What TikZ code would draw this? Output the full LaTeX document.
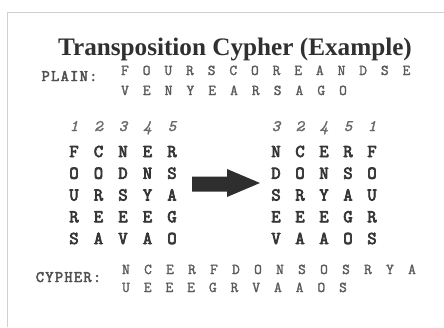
\documentclass[tikz,border=0pt]{standalone}
\usepackage{fontspec}
\setmainfont{Liberation Serif}
\newfontfamily\typb[FakeBold=4]{Latin Modern Mono}
\newfontfamily\typl[FakeBold=3,LetterSpace=8]{Latin Modern Mono}
\newfontfamily\typr[FakeBold=1.8]{Latin Modern Mono}
\newfontfamily\typi[FakeBold=1.5]{Latin Modern Mono}
\definecolor{titlegray}{HTML}{303030}
\definecolor{labgray}{HTML}{505050}
\definecolor{txtgray}{HTML}{5A5A5A}
\definecolor{gridgray}{HTML}{363636}
\definecolor{numgray}{HTML}{6A6A6A}
\definecolor{bordergray}{HTML}{D0D0D0}
\definecolor{arrowgray}{HTML}{2E2E2E}
\tikzset{
  titletext/.style={font=\fontsize{25.2}{30}\selectfont\bfseries, text=titlegray, anchor=base, inner sep=0},
  labtext/.style={font=\typl\fontsize{16}{18}\selectfont, text=labgray, anchor=base, inner sep=0},
  ptext/.style={font=\typr\fontsize{15}{17}\selectfont, text=txtgray, anchor=base, inner sep=0},
  gridch/.style={font=\typb\fontsize{18}{20}\selectfont, text=gridgray, anchor=base, inner sep=0},
  colnum/.style={font=\typi\itshape\fontsize{16}{18}\selectfont, text=numgray, anchor=base, inner sep=0},
}
\begin{document}
\begin{tikzpicture}[x=1pt,y=-1pt]
\useasboundingbox (0,0) rectangle (444,327);
% frame lines
\coordinate (fbl) at (7,327);
\coordinate (ftl) at (7,12);
\coordinate (ftr) at (444,12);
\draw[bordergray, line width=0.9pt] (fbl) -- (ftl) -- (ftr);
% title
\node[titletext] (title) at (235,55) {Transposition Cypher (Example)};
% plain text
\node[labtext] (plainlab) at (69.5,81) {PLAIN:};
\foreach \c [count=\i from 0] in {F,O,U,R,S,C,O,R,E,A,N,D,S,E}
  \node[ptext] (pa\i) at (125+21.65*\i,75) {\c};
\foreach \c [count=\i from 0] in {V,E,N,Y,E,A,R,S,A,G,O}
  \node[ptext] (pb\i) at (125+21.8*\i,95) {\c};
% column numbers
\foreach \c [count=\k from 0] in {1,2,3,4,5}
  \node[colnum] (ln\k) at (74+24.5*\k,131) {\c};
\foreach \c [count=\k from 0] in {3,2,4,5,1}
  \node[colnum] (rn\k) at (276+24*\k,131) {\c};
% left grid
\foreach \row [count=\r from 0] in {{F,C,N,E,R},{O,O,D,N,S},{U,R,S,Y,A},{R,E,E,E,G},{S,A,V,A,O}}
  \foreach \c [count=\k from 0] in \row
    \node[gridch] (l\r-\k) at (74+24.5*\k,157+21.75*\r) {\c};
% right grid
\foreach \row [count=\r from 0] in {{N,C,E,R,F},{D,O,N,S,O},{S,R,Y,A,U},{E,E,E,G,R},{V,A,A,O,S}}
  \foreach \c [count=\k from 0] in \row
    \node[gridch] (r\r-\k) at (276+24*\k,157+21.75*\r) {\c};
% block arrow
\fill[arrowgray] (192,176.5) -- (227,176.5) -- (227,169) -- (260,183) -- (227,197) -- (227,191.5) -- (192,191.5) -- cycle;
% cypher text
\node[labtext] (cyphlab) at (68.5,282) {CYPHER:};
\foreach \c [count=\i from 0] in {N,C,E,R,F,D,O,N,S,O,S,R,Y,A}
  \node[ptext] (ca\i) at (126+22*\i,274) {\c};
\foreach \c [count=\i from 0] in {U,E,E,E,G,R,V,A,A,O,S}
  \node[ptext] (cb\i) at (126+21.7*\i,292) {\c};
\end{tikzpicture}
\end{document}
